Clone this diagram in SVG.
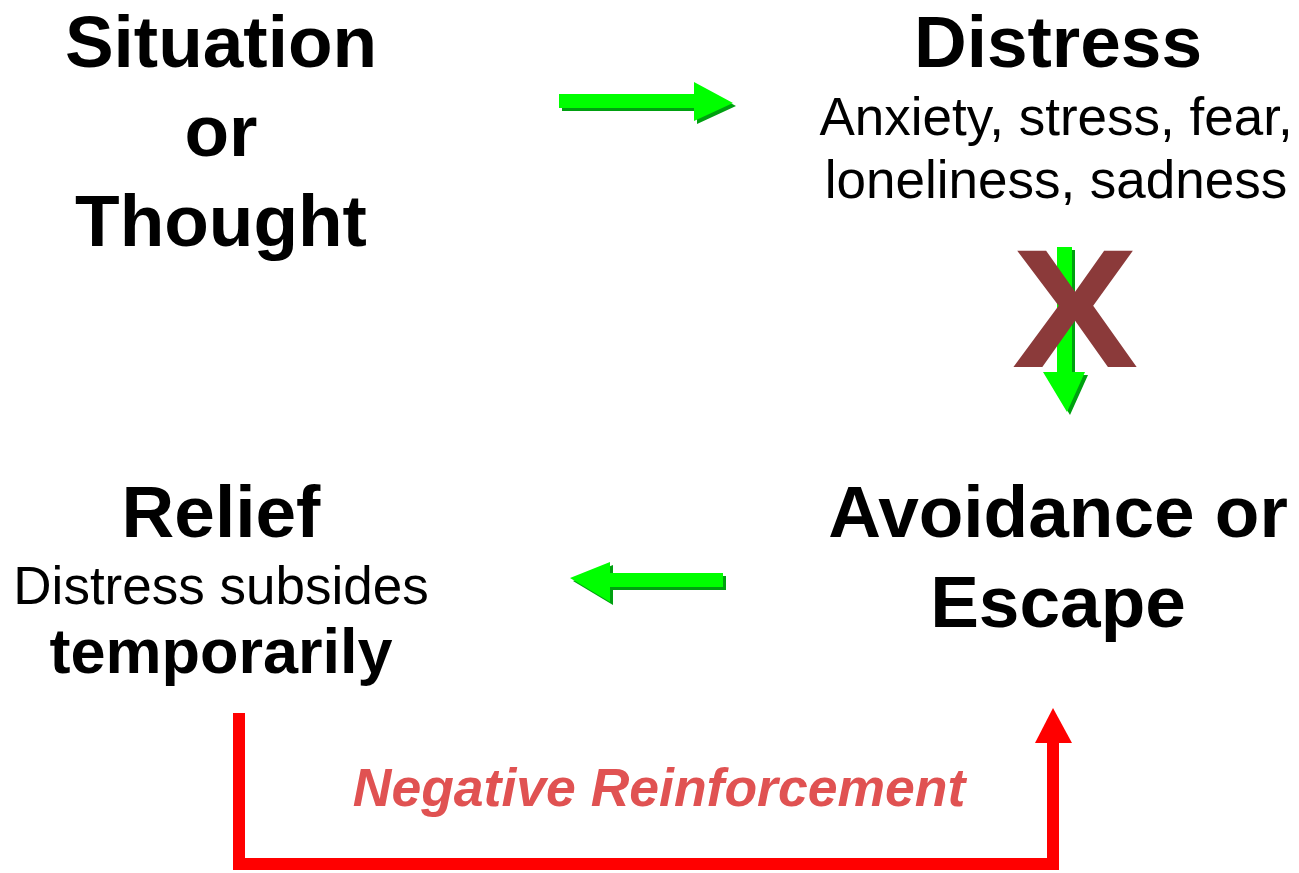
<svg xmlns="http://www.w3.org/2000/svg" width="1299" height="873" viewBox="0 0 1299 873">
<style>
.b{font-family:"Liberation Sans",Arial,sans-serif;font-weight:bold;font-size:73px;fill:#000;text-anchor:middle}
.r{font-family:"Liberation Sans",Arial,sans-serif;font-size:53px;fill:#000;text-anchor:middle}
.neg{font-family:"Liberation Sans",Arial,sans-serif;font-weight:bold;font-style:italic;font-size:53.5px;fill:#E05252;text-anchor:middle}
.ga{fill:#00FF00}
.gs{fill:#00A010}
.red{fill:none;stroke:#FF0000;stroke-width:12}
</style>
<rect width="1299" height="873" fill="#fff"/>
<g id="situation">
<text class="b" x="221" y="67">Situation</text>
<text class="b" x="221" y="156">or</text>
<text class="b" x="221" y="246">Thought</text>
</g>
<g id="distress">
<text class="b" x="1058" y="67">Distress</text>
<text class="r" x="1056" y="135">Anxiety, stress, fear,</text>
<text class="r" x="1056" y="198">loneliness, sadness</text>
</g>
<g id="relief">
<text class="b" x="221" y="537">Relief</text>
<text class="r" x="221" y="604">Distress subsides</text>
<text class="b" x="221" y="673" style="font-size:63px">temporarily</text>
</g>
<g id="avoidance">
<text class="b" x="1058" y="537">Avoidance or</text>
<text class="b" x="1058" y="627">Escape</text>
</g>
<g id="connectors">
<g id="arrow-right">
<polygon class="gs" points="562,97 697,97 697,85 736,106 697,124 697,111 562,111"/>
<polygon class="ga" points="559,94 694,94 694,82 733,103 694,121 694,108 559,108"/>
</g>
<g id="arrow-down">
<polygon class="gs" points="1060,250 1075,250 1075,375 1088,375 1070,415 1046,375 1060,375"/>
<polygon class="ga" points="1057,247 1072,247 1072,372 1085,372 1067,412 1043,372 1057,372"/>
</g>
<g id="arrow-left">
<polygon class="gs" points="573,581 613,565 613,576 726,576 726,590 613,590 613,605"/>
<polygon class="ga" points="570,578 610,562 610,573 723,573 723,587 610,587 610,602"/>
</g>
<text x="1075" y="367" font-family="Liberation Sans,Arial,sans-serif" font-weight="bold" font-size="168" fill="#8B3A3A" text-anchor="middle" transform="translate(1075,0) scale(1.13,1) translate(-1075,0)">X</text>
<g id="neg-reinforcement">
<polyline class="red" points="239,713 239,864 1053,864 1053,740"/>
<polygon fill="#FF0000" points="1053,708 1072,743 1035,743"/>
<text class="neg" x="659" y="806">Negative Reinforcement</text>
</g>
</g>
</svg>
